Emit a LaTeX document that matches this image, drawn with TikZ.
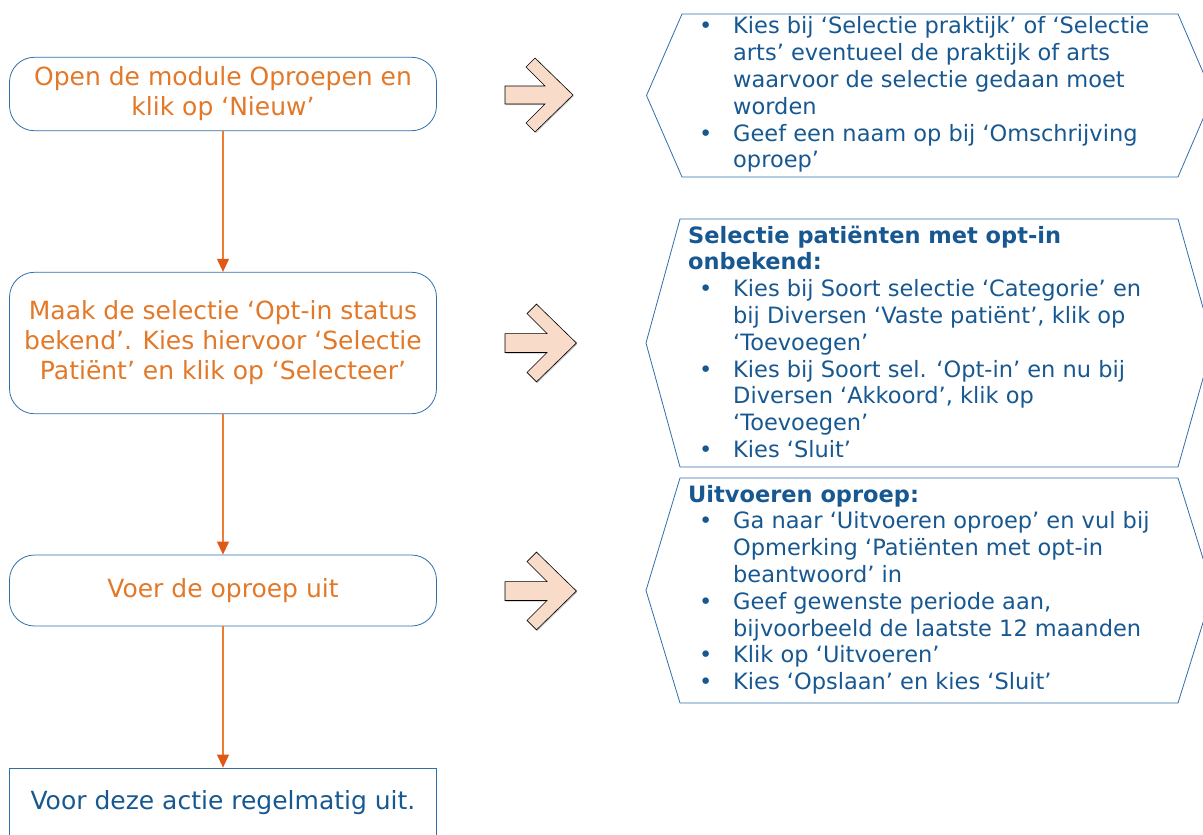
\documentclass[tikz,border=0pt]{standalone}
\usepackage{fontspec}
\setmainfont{DejaVu Sans}
\usetikzlibrary{arrows.meta}
\definecolor{txtorange}{RGB}{226,120,40}
\definecolor{txtblue}{RGB}{24,88,145}
\definecolor{boxblue}{RGB}{46,110,170}
\definecolor{lineorange}{RGB}{237,125,49}
\definecolor{tiporange}{RGB}{224,88,22}
\definecolor{peach}{RGB}{248,219,201}
\newcommand\bitem[1]{\hbox{\makebox[45pt][l]{\hspace{11pt}•}#1}}
\newcommand\bcont[1]{\hbox{\hspace{45pt}#1}}
\newcommand\bhead[1]{\hbox{\bfseries #1}}
\begin{document}
\begin{tikzpicture}[x=1pt,y=-1pt,
  stepbox/.style={draw=boxblue, line width=0.8pt, rounded corners=25pt, minimum width=427pt, text=txtorange, font=\fontsize{25}{30}\selectfont, align=center, inner sep=0pt},
  endbox/.style={draw=boxblue, line width=0.8pt, minimum width=427pt, minimum height=70pt, text=txtblue, font=\fontsize{25}{30}\selectfont, inner sep=0pt},
  flow/.style={draw=lineorange, line width=1.1pt, -{Triangle[width=12pt,length=13pt,color=tiporange]}},
  hexline/.style={draw=boxblue, line width=0.8pt},
  hextext/.style={text=txtblue, font=\fontsize{22.5}{26.8}\selectfont, inner sep=0pt, anchor=base west},
  blockarrow/.style={fill=peach, draw=black, line width=0.6pt, line join=miter},
  blockshadow/.style={fill=black!22, draw=none},
  blockarr/.pic={
    \fill[blockshadow] (1,-8) -- (41,-8) -- (22,-27) -- (31,-36) -- (69,1) -- (31,38) -- (22,29) -- (41,10) -- (1,10) -- cycle;
    \draw[blockarrow] (0,-9) -- (40,-9) -- (21,-28) -- (30,-37) -- (68,0) -- (30,37) -- (21,28) -- (40,9) -- (0,9) -- cycle;
  }
]
\useasboundingbox (0,0) rectangle (1203,835);
\clip (0,0) rectangle (1203,835);

% left flow
\node[stepbox, minimum height=73.5pt] (b1) at (223,94) {Open de module Oproepen en\\klik op ‘Nieuw’};
\node[stepbox, minimum height=141.5pt] (b2) at (223,343) {Maak de selectie ‘Opt-in status\\bekend’. Kies hiervoor ‘Selectie\\Patiënt’ en klik op ‘Selecteer’};
\node[stepbox, minimum height=71pt] (b3) at (223,590.5) {Voer de oproep uit};
\node[endbox] (b4) at (223,803) {Voor deze actie regelmatig uit.};

\draw[flow] (b1) -- (b2);
\draw[flow] (b2) -- (b3);
\draw[flow] (b3) -- (b4);

% block arrows
\pic at (505,95) {blockarr};
\pic[scale=1.05] at (505,343) {blockarr};
\pic[scale=1.05] at (505,591) {blockarr};

% hexagons
\draw[hexline] (646.5,95.5) -- (682,14) -- (1178,14) -- (1213,95.5) -- (1178,177) -- (682,177) -- cycle;
\draw[hexline] (646,343) -- (680,219) -- (1178,219) -- (1213,343) -- (1178,467) -- (680,467) -- cycle;
\draw[hexline] (646,590.5) -- (680,478) -- (1178,478) -- (1213,590.5) -- (1178,703) -- (680,703) -- cycle;

\node[hextext] (h1) at (688,34) {\vtop{%
  \bitem{Kies bij ‘Selectie praktijk’ of ‘Selectie}
  \bcont{arts’ eventueel de praktijk of arts}
  \bcont{waarvoor de selectie gedaan moet}
  \bcont{worden}
  \bitem{Geef een naam op bij ‘Omschrijving}
  \bcont{oproep’}}};

\node[hextext] (h2) at (688,243) {\vtop{%
  \bhead{Selectie patiënten met opt-in}
  \bhead{onbekend:}
  \bitem{Kies bij Soort selectie ‘Categorie’ en}
  \bcont{bij Diversen ‘Vaste patiënt’, klik op}
  \bcont{‘Toevoegen’}
  \bitem{Kies bij Soort sel. ‘Opt-in’ en nu bij}
  \bcont{Diversen ‘Akkoord’, klik op}
  \bcont{‘Toevoegen’}
  \bitem{Kies ‘Sluit’}}};

\node[hextext] (h3) at (688,502) {\vtop{%
  \bhead{Uitvoeren oproep:}
  \bitem{Ga naar ‘Uitvoeren oproep’ en vul bij}
  \bcont{Opmerking ‘Patiënten met opt-in}
  \bcont{beantwoord’ in}
  \bitem{Geef gewenste periode aan,}
  \bcont{bijvoorbeeld de laatste 12 maanden}
  \bitem{Klik op ‘Uitvoeren’}
  \bitem{Kies ‘Opslaan’ en kies ‘Sluit’}}};
\end{tikzpicture}
\end{document}
